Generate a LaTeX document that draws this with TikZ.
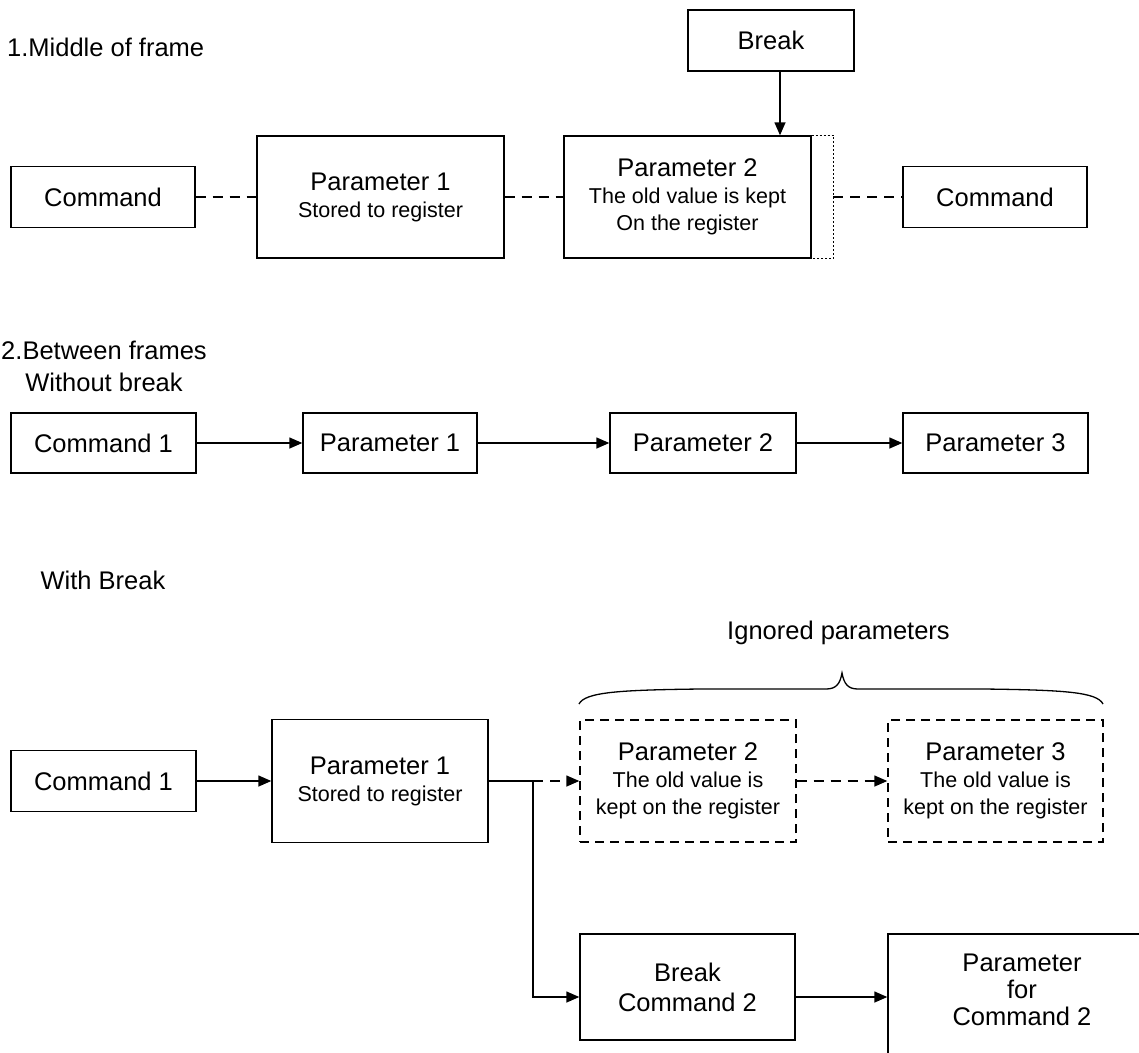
\documentclass[tikz,border=0pt]{standalone}
\usepackage{fontspec}
\setmainfont{Liberation Sans}
\usetikzlibrary{arrows.meta}
\newcommand\Mfnt{\fontsize{25.5}{27}\selectfont}
\newcommand\Sfnt{\fontsize{21.5}{27}\selectfont}
\begin{document}
\begin{tikzpicture}[x=1pt,y=-1pt,
  box/.style={draw,line width=1.4pt,inner sep=0pt,align=center,font=\Mfnt},
  subbox/.style={box,font=\Sfnt},
  dbox/.style={subbox,dash pattern=on 9pt off 6pt},
  arr/.style={line width=1.4pt,-{Triangle[length=13pt,width=11pt]}},
  dline/.style={line width=1.4pt,dash pattern=on 10pt off 7pt},
  dotline/.style={line width=1.2pt,dash pattern=on 2pt off 2pt},
  lbl/.style={inner sep=0pt,font=\Mfnt}]
\useasboundingbox (0,0) rectangle (1139,1052);
\clip (0,0) rectangle (1139,1052);

% ---------- 1. Middle of frame ----------
\node[lbl,anchor=west] (t1) at (7,47) {1.Middle of frame};
\node[box,minimum width=184pt,minimum height=61pt] (cmdA) at (103,197) {Command};
\node[subbox,minimum width=247pt,minimum height=122pt] (p1A) at (380.5,197)
  {{\Mfnt Parameter 1}\\Stored to register};
\node[subbox,minimum width=247pt,minimum height=122pt] (p2A) at (687.5,197)
  {{\Mfnt Parameter 2}\\The old value is kept\\On the register};
\node[box,minimum width=184pt,minimum height=61pt] (cmdB) at (995,197) {Command};
\node[box,minimum width=166pt,minimum height=61pt] (brk) at (771,40.5) {Break};
\draw[dotline] (p2A.north east) -- ++(22,0) |- (p2A.south east);
\coordinate (ext) at (833,197);
\draw[dline] (cmdA.east) -- (p1A.west);
\draw[dline] (p1A.east) -- (p2A.west);
\draw[dline] (ext) -- (cmdB.west);
\draw[arr] ([xshift=9pt]brk.south) -- ([xshift=9pt]brk.south |- p2A.north);

% ---------- 2. Between frames ----------
\node[lbl,align=center,font=\fontsize{25.5}{32}\selectfont] (t2) at (104,366) {2.Between frames\\Without break};
\node[box,minimum width=185pt,minimum height=60pt] (cmd1B) at (103.5,443) {Command 1};
\node[box,minimum width=174pt,minimum height=60pt] (p1B) at (390,443) {Parameter 1};
\node[box,minimum width=186pt,minimum height=60pt] (p2B) at (703,443) {Parameter 2};
\node[box,minimum width=185pt,minimum height=60pt] (p3B) at (995.5,443) {Parameter 3};
\draw[arr] (cmd1B) -- (p1B);
\draw[arr] (p1B) -- (p2B);
\draw[arr] (p2B) -- (p3B);

% ---------- With Break ----------
\node[lbl] (t3) at (103,580) {With Break};
\node[lbl] (ign) at (838.5,633) {Ignored parameters};
\draw[line width=1.3pt] (579,704) .. controls (585,692) and (620,690) .. (700,689)
  -- (826,689) .. controls (836,689) and (840,684) .. (842,673)
  .. controls (844,684) and (848,689) .. (858,689)
  -- (984,689) .. controls (1064,690) and (1097,692) .. (1103,704);

\node[box,minimum width=185pt,minimum height=61pt] (cmd1C) at (103.5,781) {Command 1};
\node[subbox,minimum width=216pt,minimum height=123pt] (p1C) at (380,781)
  {{\Mfnt Parameter 1}\\Stored to register};
\node[dbox,minimum width=216pt,minimum height=122pt] (p2C) at (688,781)
  {{\Mfnt Parameter 2}\\The old value is\\kept on the register};
\node[dbox,minimum width=215pt,minimum height=122pt] (p3C) at (995.5,781)
  {{\Mfnt Parameter 3}\\The old value is\\kept on the register};
\coordinate (J) at (533,781);
\draw[arr] (cmd1C.east) -- (p1C.west);
\draw[line width=1.4pt] (p1C.east) -- (J);
\draw[arr,dline] (J) -- (p2C.west);
\draw[arr,dline] (p2C.east) -- (p3C.west);

\node[box,minimum width=215pt,minimum height=106pt,font=\fontsize{25.5}{30}\selectfont] (bc2) at (687.5,987) {Break\\Command 2};
\node[box,minimum width=268pt,minimum height=132pt] (pc2) at (1022,1000) {};
\node[lbl,align=center,font=\Mfnt] (pc2t) at (1022,990) {Parameter\\for\\Command 2};
\draw[arr] (J) |- ([yshift=-10pt]bc2.west);
\draw[arr] ([yshift=-10pt]bc2.east) -- ([yshift=-10pt]bc2.east -| pc2.west);
\end{tikzpicture}
\end{document}
